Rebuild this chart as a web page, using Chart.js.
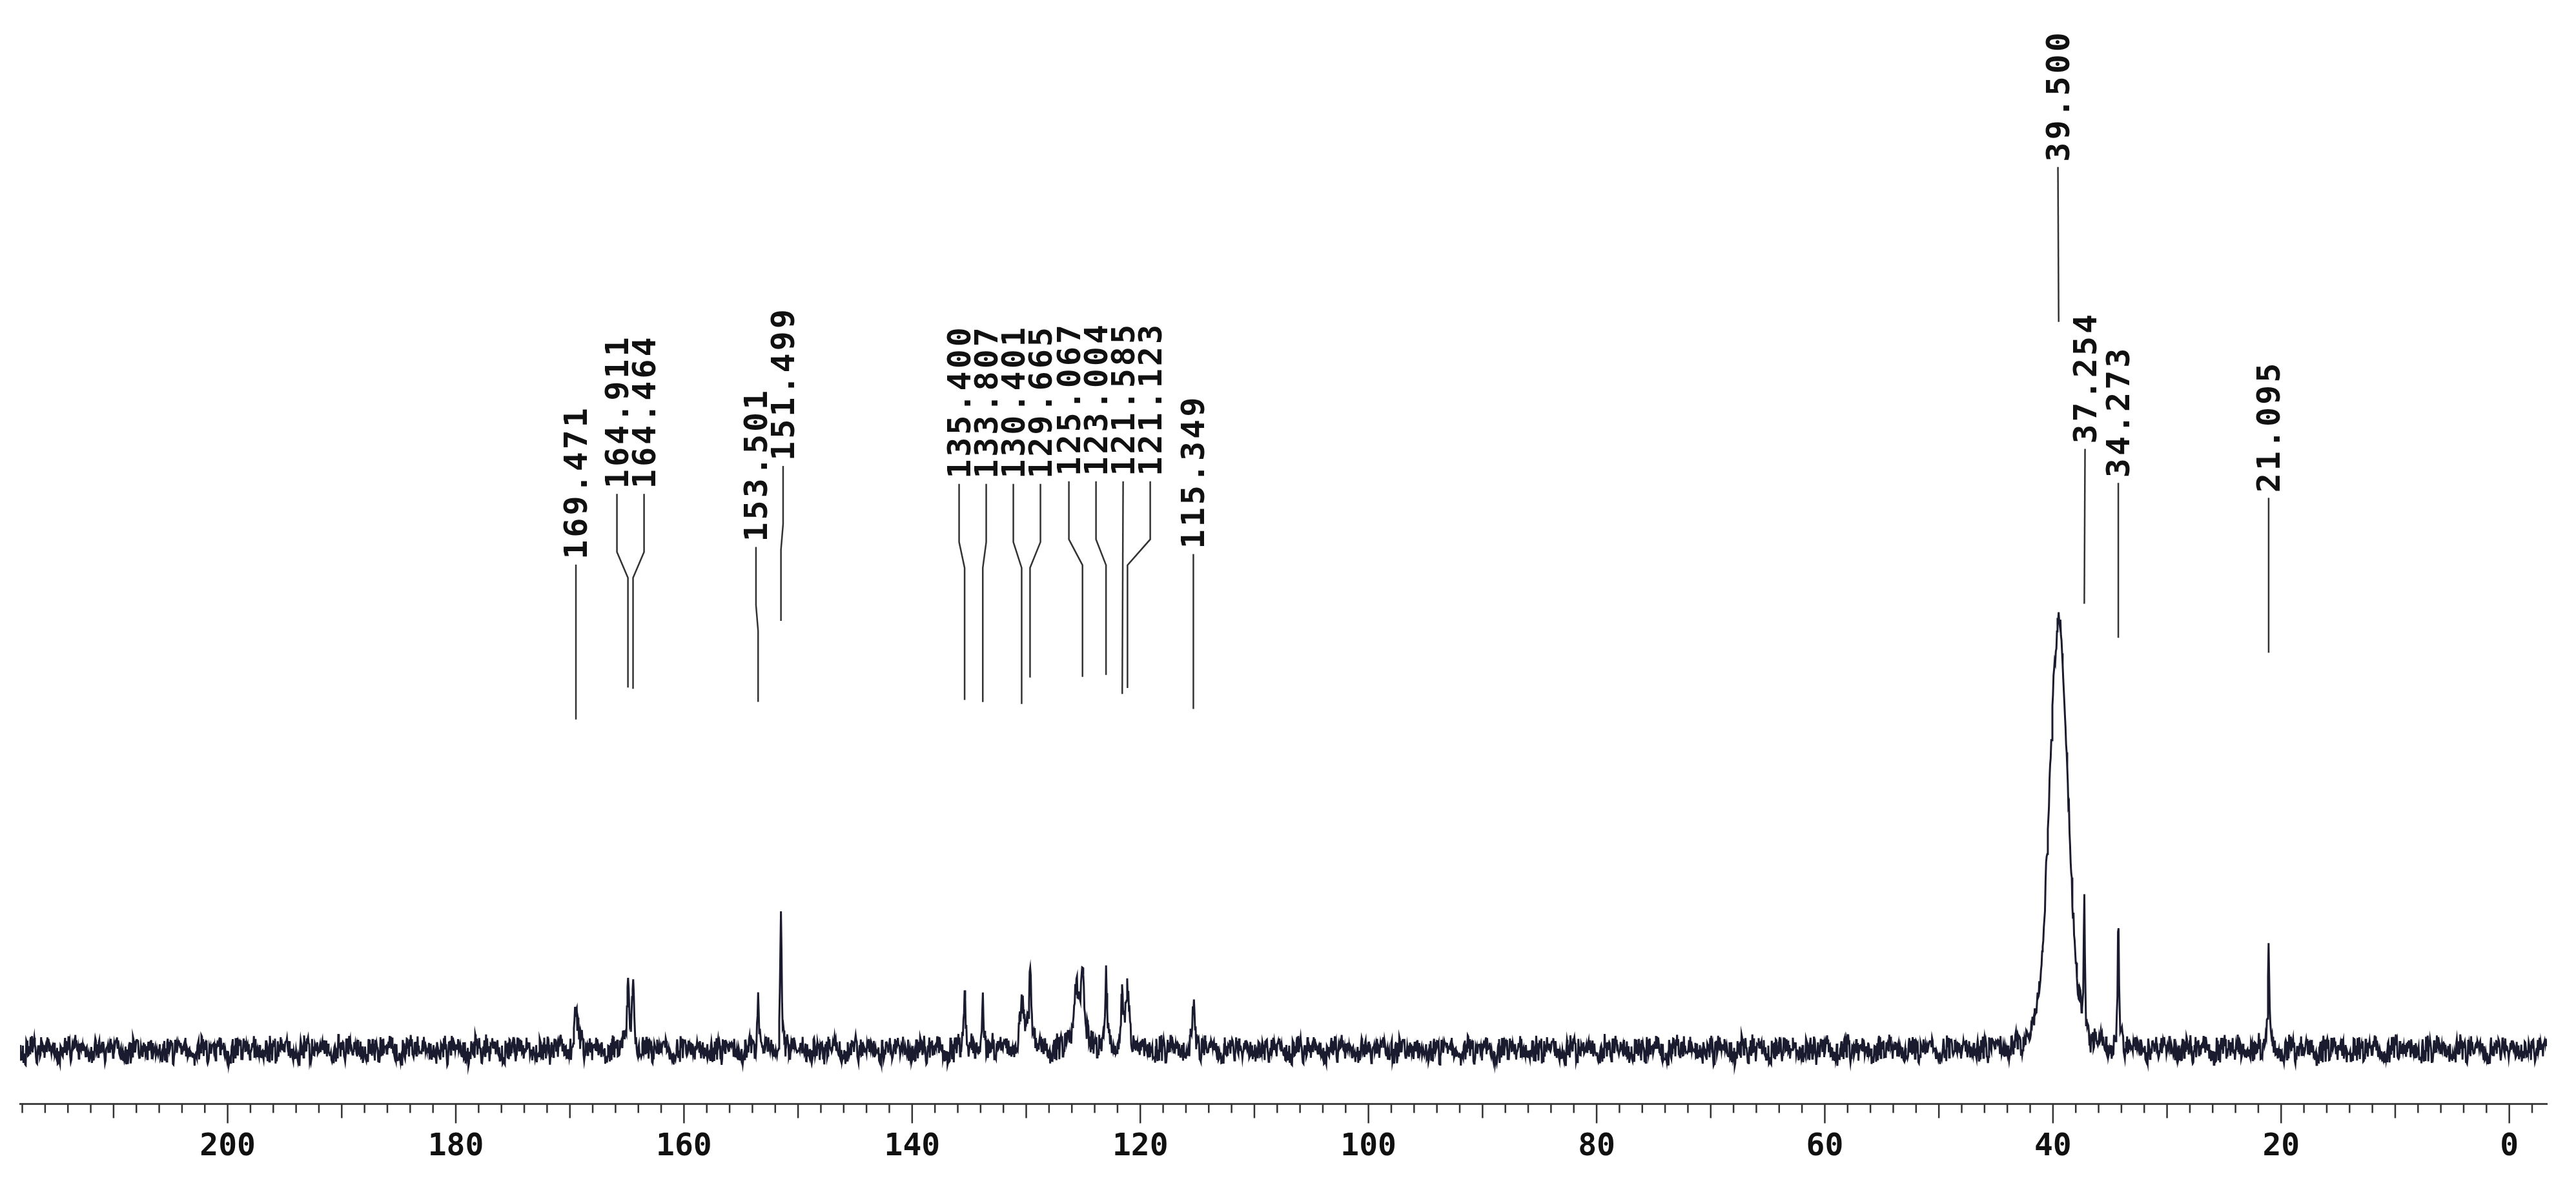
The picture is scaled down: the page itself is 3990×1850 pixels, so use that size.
<!DOCTYPE html>
<html>
<head>
<meta charset="utf-8">
<script src="https://cdn.jsdelivr.net/npm/chart.js@4.4.1/dist/chart.umd.min.js"></script>
<style>
  html, body { margin: 0; padding: 0; background: #fff; }
  #wrap { width: 3990px; height: 1850px; }
</style>
</head>
<body>
<div id="wrap"><canvas id="spec" width="3990" height="1850"></canvas></div>
<script>
// peaks: shift (ppm), height (intensity), half width (ppm)
const peakShifts  = [169.471, 164.911, 164.464, 153.501, 151.499, 135.400, 133.807, 130.401, 129.665, 125.6, 125.067, 123.004, 121.585, 121.123, 115.349, 39.500, 37.254, 34.273, 21.095, 98.0];
const peakHeights = [64, 107, 112, 84, 229, 92, 89, 70, 135, 85, 120, 120, 81, 84, 60, 662, 200, 190, 165, 25];
const peakWidths  = [0.18, 0.1, 0.1, 0.08, 0.07, 0.08, 0.08, 0.2, 0.12, 0.25, 0.2, 0.08, 0.15, 0.15, 0.15, 0.85, 0.06, 0.07, 0.07, 0.04];
const peakLabels  = ['169.471','164.911','164.464','153.501','151.499','135.400','133.807','130.401','129.665','','125.067','123.004','121.585','121.123','115.349','39.500','37.254','34.273','21.095',''];
// short baseline noise patterns
const noise = [4,-12,9,-18,14,-6,20,-15,2,11,-21,7,-3,16,-10,5,-17,12,-8,19,-2,-14,8,-20,13,-5,3,17,-11,6,-19,10,-4,15,-13,1,18,-9,-16,9,-1,12,-22,6,14,-7,-12,4,10,-18,16,-3,7,-14,2,20,-10,-6,13,-15];
const noise2 = [6,-4,-9,3,11,-7,0,8,-12,5,-2,9,-6,-10,4,12,-3,-8,7,1,-11,10,-5,2,-7,8,-1,-9,6,3,-4,11,-8,5,-6,0,9];
const tickLabels = [200, 180, 160, 140, 120, 100, 80, 60, 40, 20, 0];
const xMin = -3.3, xMax = 218.2;

const pts = [];
for (let i = 0, x = xMax; x >= xMin; i++, x -= 0.05) {
  let y = noise[(i * 7) % noise.length] * 0.8 + noise2[(i * 5) % noise2.length] * 0.7;
  for (let k = 0; k < peakShifts.length; k++) {
    const d = (x - peakShifts[k]) / peakWidths[k];
    y += k === 15 ? peakHeights[k] * Math.exp(-0.5 * d * d) * 0.75 + peakHeights[k] * 0.25 / (1 + d * d)
                  : peakHeights[k] / (1 + d * d);
  }
  pts.push({x: x, y: y});
}

const peakMarks = {
  id: 'peakMarks',
  afterDatasetsDraw(chart) {
    const c = chart.ctx, xs = chart.scales.x, ys = chart.scales.y;
    const items = [];
    peakLabels.forEach((t, k) => {
      if (!t) return;
      let top = 0;
      pts.forEach(p => { if (Math.abs(p.x - peakShifts[k]) < 0.06) top = Math.max(top, p.y); });
      items.push({t: t, px: xs.getPixelForValue(peakShifts[k]), bottom: ys.getPixelForValue(top) - 450});
    });
    items.sort((a, b) => a.px - b.px);
    // spread label slots
    const gap = 42;
    items.forEach(it => it.sx = it.px);
    for (let iter = 0; iter < 400; iter++) {
      for (let i = 1; i < items.length; i++) {
        const o = gap - (items[i].sx - items[i - 1].sx);
        if (o > 0) { items[i].sx += o / 2; items[i - 1].sx -= o / 2; }
      }
    }
    // groups of labels that had to be moved a lot share one text line
    let g = 0;
    items.forEach((it, i) => {
      if (i > 0 && items[i].sx - items[i - 1].sx > gap + 1) g++;
      it.g = g;
    });
    const groupTop = {}, groupMoved = {};
    items.forEach(it => {
      groupTop[it.g] = Math.min(groupTop[it.g] ?? 1e9, it.bottom);
      if (Math.abs(it.sx - it.px) > 6) groupMoved[it.g] = true;
    });
    c.save();
    c.strokeStyle = '#333'; c.lineWidth = 2.5; c.fillStyle = '#111';
    c.font = 'bold 50px "DejaVu Sans Mono"';
    c.letterSpacing = '4px';
    items.forEach(it => {
      const moved = Math.abs(it.sx - it.px) > 2;
      const tb = groupMoved[it.g] ? groupTop[it.g] - 300 : it.bottom - 240;
      c.beginPath();
      c.moveTo(it.sx, tb);
      if (moved) { c.lineTo(it.sx, tb + 90); c.lineTo(it.px, tb + 130); }
      c.lineTo(it.px, it.bottom);
      c.stroke();
      c.save();
      c.translate(it.sx + 17, tb - 8);
      c.rotate(-Math.PI / 2);
      c.textAlign = 'left';
      c.fillText(it.t, 0, 0);
      c.restore();
    });
    // axis ticks
    const y0 = xs.top;
    for (let v = -2; v <= 218; v += 2) {
      const px = xs.getPixelForValue(v);
      const len = v % 20 === 0 ? 30 : v % 10 === 0 ? 22 : 14;
      c.beginPath(); c.moveTo(px, y0); c.lineTo(px, y0 + len); c.stroke();
    }
    c.restore();
  }
};

new Chart(document.getElementById('spec'), {
  type: 'line',
  data: { datasets: [{ data: pts, borderColor: '#1b1b30', borderWidth: 3, pointRadius: 0, tension: 0 }] },
  options: {
    responsive: false, animation: false,
    layout: { padding: { left: 31, right: 45, top: 20, bottom: 14 } },
    plugins: { legend: { display: false }, tooltip: { enabled: false } },
    scales: {
      x: {
        type: 'linear', reverse: true, min: xMin, max: xMax,
        border: { display: true, color: '#444', width: 3 },
        grid: { display: false },
        afterBuildTicks: s => { s.ticks = tickLabels.map(v => ({value: v})); },
        ticks: { color: '#111', padding: 30, maxRotation: 0, autoSkip: false,
                 font: { family: 'DejaVu Sans Mono', size: 48, weight: 'bold' } }
      },
      y: { display: false, min: -84, max: 1609 }
    }
  },
  plugins: [peakMarks]
});
</script>
</body>
</html>
